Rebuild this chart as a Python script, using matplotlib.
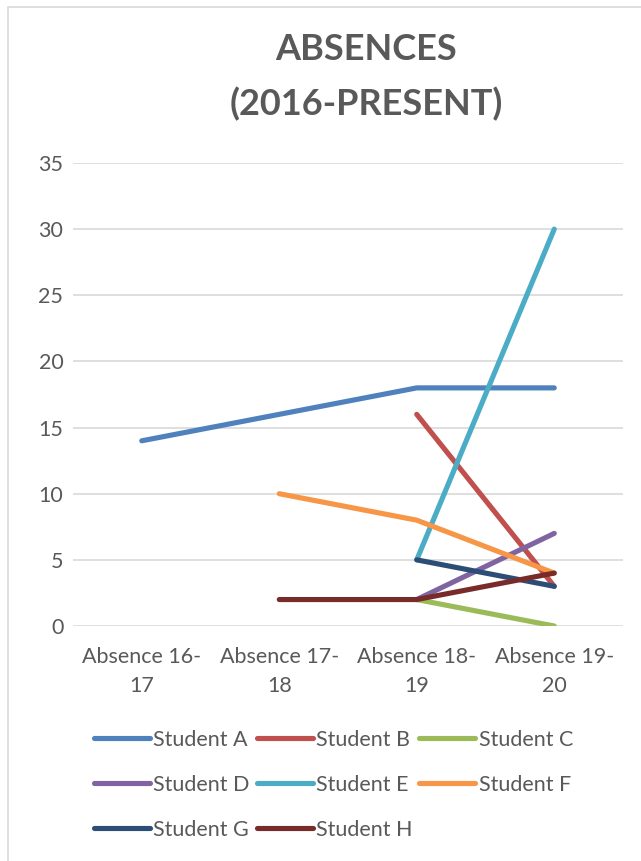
import numpy as np
import matplotlib
matplotlib.use("Agg")
import matplotlib.pyplot as plt
from matplotlib.patches import Rectangle

categories = ["Absence 16-\n17", "Absence 17-\n18", "Absence 18-\n19", "Absence 19-\n20"]
student_a = [14, 16, 18, 18]
student_b = [np.nan, np.nan, 16, 3]
student_c = [np.nan, np.nan, 2, 0]
student_d = [np.nan, np.nan, 2, 7]
student_e = [np.nan, np.nan, 5, 30]
student_f = [np.nan, 10, 8, 4]
student_g = [np.nan, np.nan, 5, 3]
student_h = [np.nan, 2, 2, 4]
names = ["Student A", "Student B", "Student C", "Student D",
         "Student E", "Student F", "Student G", "Student H"]
series = [student_a, student_b, student_c, student_d,
          student_e, student_f, student_g, student_h]
colors = ["#4F81BD", "#C0504D", "#9BBB59", "#8064A2",
          "#4BACC6", "#F79646", "#2C4D75", "#772C2A"]
yticks = [0, 5, 10, 15, 20, 25, 30, 35]

plt.rcParams['font.family'] = ['Lato', 'DejaVu Sans']
TXT = "#595959"
FS = 15.5

fig = plt.figure(figsize=(6.41, 8.61), dpi=100)
fig.patches.append(Rectangle((8/641, -0.01), 1.0, 1 - 7/861 + 0.01,
                             transform=fig.transFigure, fill=False,
                             edgecolor="#D9D9D9", linewidth=1.2))

ax = fig.add_axes([73/641, 1 - 626/861, (623 - 73)/641, (626 - 163)/861])
x = np.arange(len(categories))
handles = []
for name, vals, c in zip(names, series, colors):
    h, = ax.plot(x, vals, color=c, linewidth=3.7, solid_capstyle='round',
                 solid_joinstyle='round', label=name)
    handles.append(h)

ax.set_xlim(-0.5, len(categories) - 0.5)
ax.set_ylim(0, 35)
ax.set_yticks(yticks)
ax.set_xticks(x)
ax.set_xticklabels(categories, fontsize=FS, color=TXT, linespacing=1.55)
ax.tick_params(axis='y', labelsize=FS, labelcolor=TXT, length=0, pad=7)
ax.tick_params(axis='x', length=0, pad=15)
ax.yaxis.grid(True, color="#D9D9D9", linewidth=1.2)
ax.set_axisbelow(True)
for s in ax.spines.values():
    s.set_visible(False)

fig.text(366/641, 1 - 50/861, "ABSENCES", ha='center', va='center',
         fontsize=26, fontweight='bold', color=TXT)
fig.text(366/641, 1 - 104/861, "(2016-PRESENT)", ha='center', va='center',
         fontsize=26, fontweight='bold', color=TXT)

order = [0, 3, 6, 1, 4, 7, 2, 5]
leg = fig.legend([handles[i] for i in order], [names[i] for i in order],
                 loc='upper left', bbox_to_anchor=(94/641, 1 - 730/861),
                 ncol=3, frameon=False, fontsize=FS, handlelength=2.6,
                 handletextpad=0.15, columnspacing=0.33, labelspacing=1.16,
                 borderaxespad=0, borderpad=0)
for t in leg.get_texts():
    t.set_color(TXT)

fig.savefig("out.png", dpi=100)
